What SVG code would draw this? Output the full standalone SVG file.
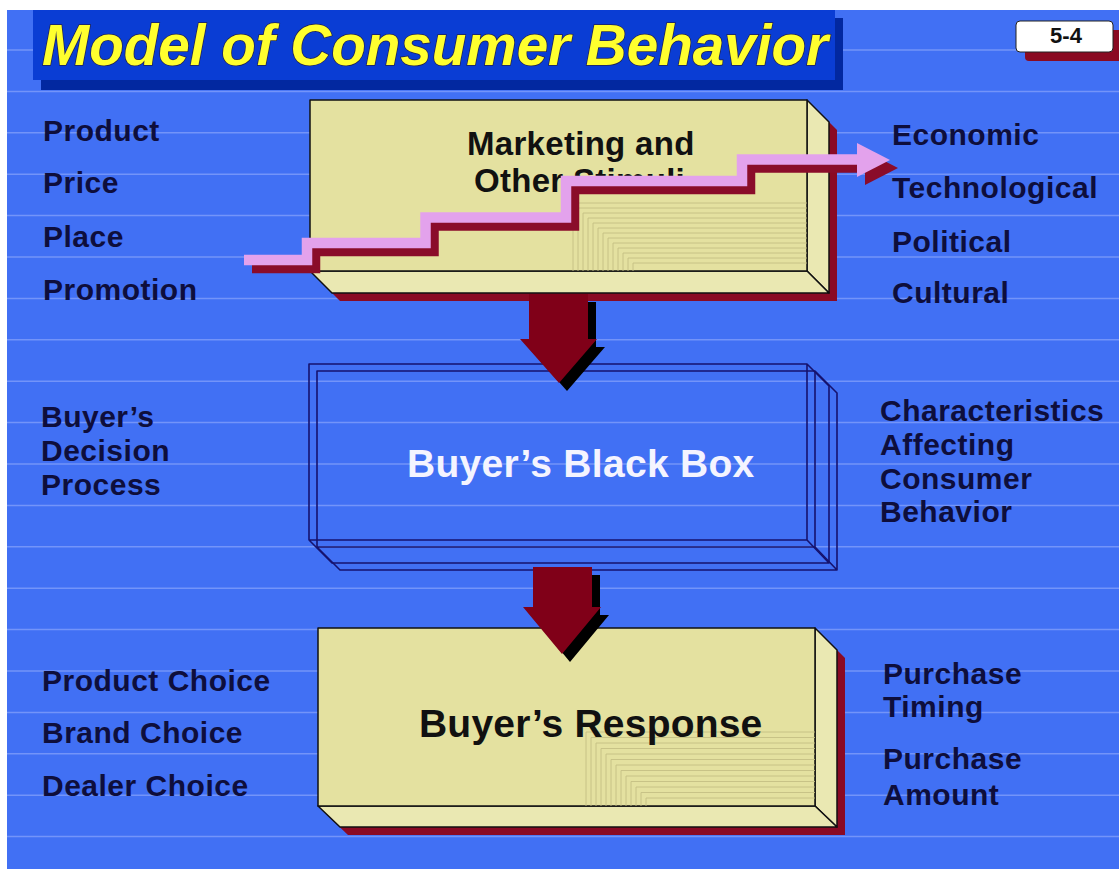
<svg xmlns="http://www.w3.org/2000/svg" width="1119" height="869" viewBox="0 0 1119 869">
<style>
.lbl{font-family:"Liberation Sans",Arial,sans-serif;font-weight:bold;font-size:30px;letter-spacing:0.5px;fill:#0e0e3c}
.face{fill:#e4e1a0;stroke:#111;stroke-width:1.5;stroke-linejoin:round}
.side{fill:#eae8b2;stroke:#111;stroke-width:1.5;stroke-linejoin:round}
.shadow{fill:#8a0a24}
.tex{fill:none;stroke:#c4bf84;stroke-width:0.9}
.wire{fill:none;stroke:#16126e;stroke-width:1.6;stroke-linejoin:round}
.bline{stroke:#7394f9;stroke-width:1.5}
.boxtxt{font-family:"Liberation Sans",Arial,sans-serif;font-weight:bold}
</style>
<rect width="1119" height="869" fill="#ffffff"/>
<rect x="7" y="10" width="1112" height="859" fill="#4170f4"/>
<g id="bg-lines">
<line class="bline" x1="7" y1="50" x2="1119" y2="50"/>
<line class="bline" x1="7" y1="91.4" x2="1119" y2="91.4"/>
<line class="bline" x1="7" y1="132.8" x2="1119" y2="132.8"/>
<line class="bline" x1="7" y1="174.2" x2="1119" y2="174.2"/>
<line class="bline" x1="7" y1="215.6" x2="1119" y2="215.6"/>
<line class="bline" x1="7" y1="257" x2="1119" y2="257"/>
<line class="bline" x1="7" y1="298.4" x2="1119" y2="298.4"/>
<line class="bline" x1="7" y1="339.8" x2="1119" y2="339.8"/>
<line class="bline" x1="7" y1="381.2" x2="1119" y2="381.2"/>
<line class="bline" x1="7" y1="422.6" x2="1119" y2="422.6"/>
<line class="bline" x1="7" y1="464" x2="1119" y2="464"/>
<line class="bline" x1="7" y1="505.4" x2="1119" y2="505.4"/>
<line class="bline" x1="7" y1="546.8" x2="1119" y2="546.8"/>
<line class="bline" x1="7" y1="588.2" x2="1119" y2="588.2"/>
<line class="bline" x1="7" y1="629.6" x2="1119" y2="629.6"/>
<line class="bline" x1="7" y1="671" x2="1119" y2="671"/>
<line class="bline" x1="7" y1="712.4" x2="1119" y2="712.4"/>
<line class="bline" x1="7" y1="753.8" x2="1119" y2="753.8"/>
<line class="bline" x1="7" y1="795.2" x2="1119" y2="795.2"/>
<line class="bline" x1="7" y1="836.6" x2="1119" y2="836.6"/>
</g>
<g id="title">
<rect x="41" y="18" width="802" height="72" fill="#0228a0"/>
<rect x="33" y="10" width="802" height="70" fill="#0a3dd4"/>
<text x="42" y="65" font-family="'Liberation Sans',Arial,sans-serif" font-weight="bold" font-style="italic" font-size="57" fill="#ffff2e" stroke="#23234f" stroke-width="1.5" paint-order="stroke" textLength="786" lengthAdjust="spacingAndGlyphs">Model of Consumer Behavior</text>
</g>
<g id="page-number">
<rect x="1025" y="30" width="97" height="31" rx="4" fill="#8a0a22"/>
<rect x="1016" y="21" width="97" height="31" rx="4" fill="#ffffff" stroke="#222" stroke-width="1"/>
<text x="1066" y="43" text-anchor="middle" font-family="'Liberation Sans',Arial,sans-serif" font-weight="bold" font-size="22" fill="#111">5-4</text>
</g>
<g id="node-stimuli">
<polygon class="shadow" points="318,108 815,108 837,130 837,301 340,301 318,279"/>
<polygon class="side" points="807,100 829,122 829,293 807,271"/>
<polygon class="side" points="310,271 807,271 829,293 332,293"/>
<rect class="face" x="310" y="100" width="497" height="171"/>
<path class="tex" d="M573,271V203H807M578,271V208H807M583,271V213H807M588,271V218H807M593,271V223H807M598,271V228H807M603,271V233H807M608,271V238H807M613,271V243H807M618,271V248H807M623,271V253H807M628,271V258H807M633,271V263H807"/>
<text class="boxtxt" x="467" y="155" font-size="33" letter-spacing="0.3" fill="#111">Marketing and</text>
<text class="boxtxt" x="474" y="192" font-size="33" letter-spacing="0.3" fill="#111">Other Stimuli</text>
</g>
<g id="node-blackbox">
<path class="wire" d="M309,364H807V540H309Z M807,364L829,386V563L807,540 M309,540L332,563H829"/>
<path class="wire" d="M317,371H815V547H317Z M815,371L837,393V570L815,547 M317,547L340,570H837"/>
<text class="boxtxt" x="407" y="477" font-size="39" letter-spacing="0.3" fill="#f4f4ff">Buyer’s Black Box</text>
</g>
<g id="node-response">
<polygon class="shadow" points="326,636 823,636 845,658 845,835 348,835 326,814"/>
<polygon class="side" points="815,628 837,650 837,827 815,806"/>
<polygon class="side" points="318,806 815,806 837,827 340,827"/>
<rect class="face" x="318" y="628" width="497" height="178"/>
<path class="tex" d="M586,806V732H815M591,806V737.5H815M596,806V743H815M601,806V748.5H815M606,806V754H815M611,806V759.5H815M616,806V765H815M621,806V770.5H815M626,806V776H815M631,806V781.5H815M636,806V787H815M641,806V792.5H815M646,806V798H815"/>
<text class="boxtxt" x="419" y="737" font-size="39" letter-spacing="0.2" fill="#111">Buyer’s Response</text>
</g>
<g id="connectors">
<g id="stimuli-flow">
<g transform="translate(8,8)" fill="#8a0c2a">
<path d="M244,260H307V243H425.5V217.5H566V181H742V159.5H857" fill="none" stroke="#8a0c2a" stroke-width="10.5" stroke-linejoin="miter"/>
<polygon points="857,143 890,160 857,177"/>
</g>
<path d="M244,260H307V243H425.5V217.5H566V181H742V159.5H857" fill="none" stroke="#e3a2ec" stroke-width="10.5" stroke-linejoin="miter"/>
<polygon points="857,143 890,160 857,177" fill="#e3a2ec"/>
</g>
<g id="arrow-stimuli-blackbox">
<polygon points="537,302 596,302 596,347 605,347 567,391 528,347 537,347" fill="#000"/>
<polygon points="529,294 588,294 588,339 597,339 559,383 520,339 529,339" fill="#800018"/>
</g>
<g id="arrow-blackbox-response">
<polygon points="541,575 600,575 600,615 609,615 570,662 531,615 541,615" fill="#000"/>
<polygon points="533,567 592,567 592,607 601,607 562,654 523,607 533,607" fill="#800018"/>
</g>
</g>
<g id="labels-left-top">
<text class="lbl" x="43" y="141">Product</text>
<text class="lbl" x="43" y="193">Price</text>
<text class="lbl" x="43" y="247">Place</text>
<text class="lbl" x="43" y="300">Promotion</text>
</g>
<g id="labels-right-top">
<text class="lbl" x="892" y="145">Economic</text>
<text class="lbl" x="892" y="198">Technological</text>
<text class="lbl" x="892" y="252">Political</text>
<text class="lbl" x="892" y="303">Cultural</text>
</g>
<g id="labels-left-mid">
<text class="lbl" x="41" y="427">Buyer’s</text>
<text class="lbl" x="41" y="461">Decision</text>
<text class="lbl" x="41" y="495">Process</text>
</g>
<g id="labels-right-mid">
<text class="lbl" x="880" y="421">Characteristics</text>
<text class="lbl" x="880" y="455">Affecting</text>
<text class="lbl" x="880" y="489">Consumer</text>
<text class="lbl" x="880" y="522">Behavior</text>
</g>
<g id="labels-left-bottom">
<text class="lbl" x="42" y="691">Product Choice</text>
<text class="lbl" x="42" y="743">Brand Choice</text>
<text class="lbl" x="42" y="796">Dealer Choice</text>
</g>
<g id="labels-right-bottom">
<text class="lbl" x="883" y="684">Purchase</text>
<text class="lbl" x="883" y="717">Timing</text>
<text class="lbl" x="883" y="769">Purchase</text>
<text class="lbl" x="883" y="805">Amount</text>
</g>
</svg>
